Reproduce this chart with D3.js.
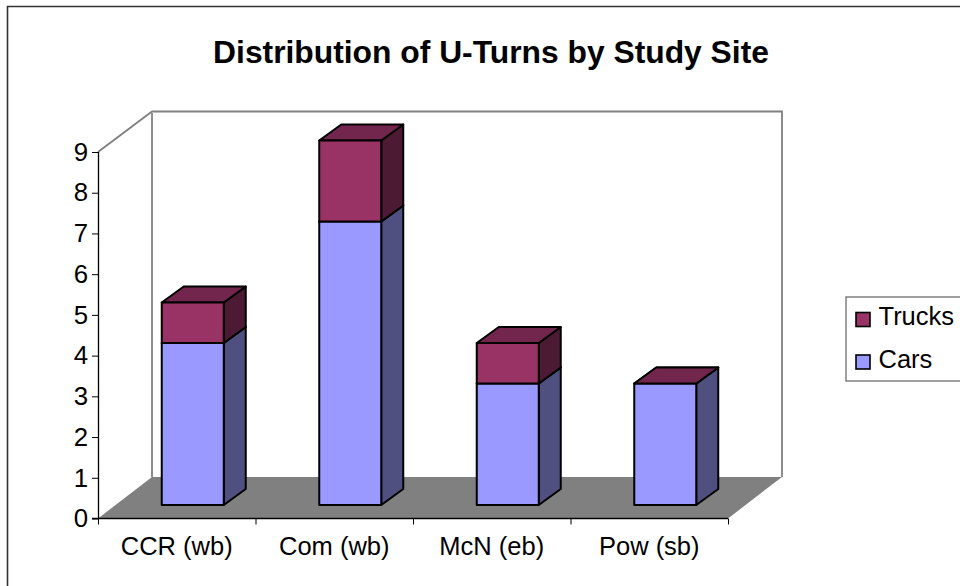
<!DOCTYPE html>
<html><head><meta charset="utf-8">
<style>html,body{margin:0;padding:0;background:#fff}svg{display:block}text{font-family:"Liberation Sans",Arial,sans-serif;fill:#000}</style>
<script src="https://cdn.jsdelivr.net/npm/d3@7"></script></head>
<body><script>
const categories = ["CCR (wb)", "Com (wb)", "McN (eb)", "Pow (sb)"];
const cars = [4, 7, 3, 3];
const trucks = [1, 2, 1, 0];
const yTicks = [0,1,2,3,4,5,6,7,8,9];
const titleText = "Distribution of U-Turns by Study Site";

const svg = d3.select("body").append("svg").attr("width",960).attr("height",586);
svg.append("path").attr("d","M7.5,600V6.5H970").attr("fill","none").attr("stroke","#333").attr("stroke-width",1.6);

const x = d3.scaleBand().domain(categories).range([98,728]).padding(0);
const y = d3.scaleLinear().domain([0,9]).range([518.5,152]);
const dxWall=54, dyWall=-41.5;
const barY = d3.scaleLinear().domain([0,9]).range([505,140.5]);
const barOff=16, barW=62, dBar=22, dyBar=-16;

const wallColor="#808080";
svg.append("path").attr("d",d3.line()([[98,518.5],[98+dxWall,518.5+dyWall],[728+dxWall,518.5+dyWall],[728,518.5]])+"Z").attr("fill",wallColor);
svg.append("path").attr("d",d3.line()([[98,152],[98+dxWall,152+dyWall+1],[728+dxWall,152+dyWall+1],[728+dxWall,518.5+dyWall]])).attr("fill","none").attr("stroke",wallColor).attr("stroke-width",1.8);
svg.append("line").attr("x1",152).attr("x2",152).attr("y1",113).attr("y2",477).attr("stroke",wallColor).attr("stroke-width",1.8);

const ax = svg.append("g").attr("transform","translate(98,0)").call(d3.axisLeft(y).tickValues(yTicks).tickSize(6).tickPadding(4).tickFormat(d3.format("d")));
ax.selectAll("path,line").attr("stroke","#000");
ax.selectAll("text").attr("font-size",25.8).style("font-family",'"Liberation Sans",Arial,sans-serif');
ax.select(".domain").attr("d","M0.5,152V518.5").attr("stroke-width",1.3);
const bx = svg.append("g").attr("transform","translate(0,518.5)");
bx.append("line").attr("x1",92).attr("x2",728).attr("stroke","#000").attr("stroke-width",1.3);
bx.selectAll(".t").data(d3.range(categories.length+1)).join("line").attr("class","t")
  .attr("x1",i=>x.step()*i+98.5).attr("x2",i=>x.step()*i+98.5).attr("y1",0).attr("y2",6).attr("stroke","#000");
bx.selectAll("text").data(categories).join("text")
  .attr("x",d=>x(d)+x.bandwidth()/2).attr("y",36.5).attr("text-anchor","middle").attr("font-size",25.5).text(d=>d);

const series=[
 {name:"Cars",values:cars,base:()=>0,front:"#9999ff",side:"#4f4f80",top:"#6b6bb3"},
 {name:"Trucks",values:trucks,base:i=>cars[i],front:"#993366",side:"#4d1a33",top:"#73264d"}
];
function box(g,x0,y0,y1,c){
  const add=(pts,fill)=>g.append("path").attr("d",d3.line()(pts)+"Z").attr("fill",fill).attr("stroke","#000").attr("stroke-width",2).attr("stroke-linejoin","round");
  add([[x0+barW,y1],[x0+barW+dBar,y1+dyBar],[x0+barW+dBar,y0+dyBar],[x0+barW,y0]],c.side);
  add([[x0,y1],[x0+dBar,y1+dyBar],[x0+barW+dBar,y1+dyBar],[x0+barW,y1]],c.top);
  add([[x0,y0],[x0,y1],[x0+barW,y1],[x0+barW,y0]],c.front);
}
categories.forEach((cat,i)=>{
  const g=svg.append("g"), x0=x(cat)+x.step()/2-barW/2+barOff;
  series.forEach(s=>{ if(s.values[i]>0) box(g,x0,barY(s.base(i)),barY(s.base(i)+s.values[i]),s); });
  if(trucks[i]===0){
    const yy=barY(cars[i]);
    g.append("path").attr("d",d3.line()([[x0,yy],[x0+dBar,yy+dyBar],[x0+barW+dBar,yy+dyBar],[x0+barW,yy]])+"Z").attr("fill",series[1].top).attr("stroke","#000").attr("stroke-width",2).attr("stroke-linejoin","round");
  }
});

svg.append("text").attr("x",491).attr("y",63).attr("text-anchor","middle").attr("font-size",31.8).attr("font-weight","bold").text(titleText);

const lg=svg.append("g");
lg.append("rect").attr("x",846).attr("y",297).attr("width",120).attr("height",84).attr("fill","#fff").attr("stroke","#808080").attr("stroke-width",1.5);
[["Trucks",series[1].front,312.5,325],["Cars",series[0].front,355,367.5]].forEach(([t,c,sy,by])=>{
  lg.append("rect").attr("x",856).attr("y",sy).attr("width",14).attr("height",14).attr("fill",c).attr("stroke","#000").attr("stroke-width",1.6);
  lg.append("text").attr("x",878.5).attr("y",by).attr("font-size",25.5).text(t);
});
</script></body></html>
